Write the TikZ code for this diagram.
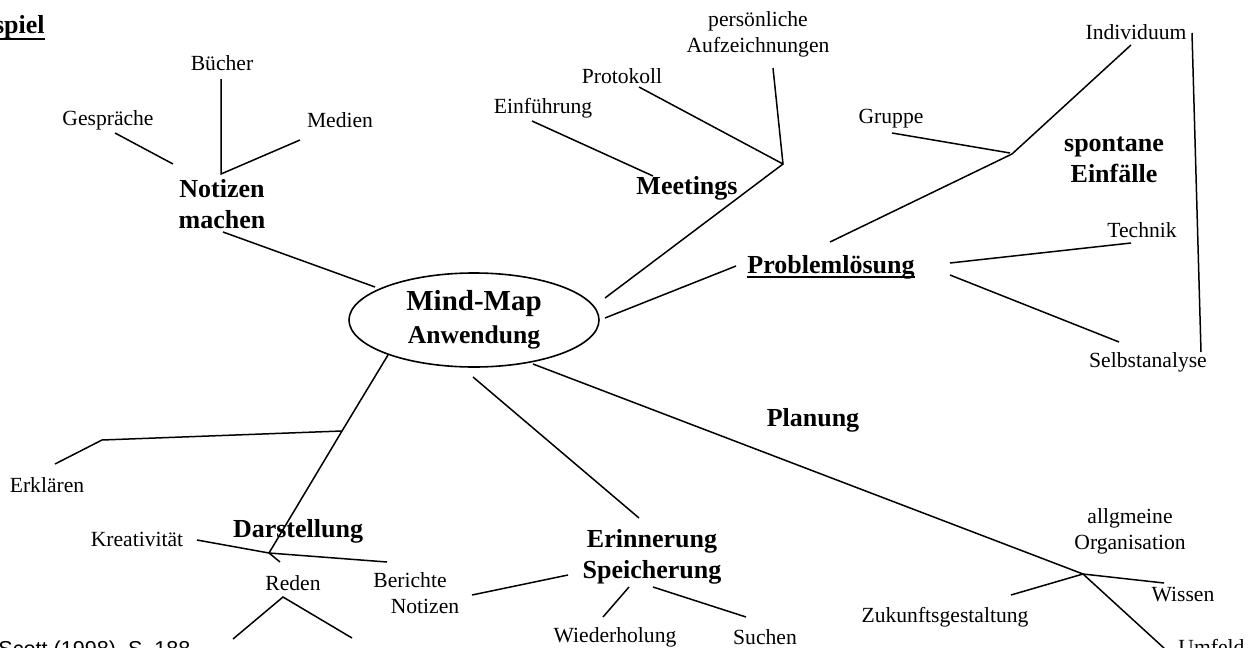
\documentclass[tikz,border=0pt]{standalone}
\usepackage{fontspec}
\setmainfont{Liberation Serif}
\newfontfamily\arialfont{Liberation Sans}
\usepackage{tikz}
\usetikzlibrary{shapes.geometric}
\definecolor{ink}{HTML}{000000}
\tikzset{
  leaf/.style={inner sep=0pt,align=center,text=ink,
    font=\fontsize{10.8}{13}\selectfont},
  branch/.style={inner sep=0pt,align=center,text=ink,
    font=\fontsize{13}{15.5}\selectfont\bfseries},
  hub/.style={draw=ink,ellipse,line width=0.8pt,minimum width=125pt,
    minimum height=47pt,inner sep=0pt,align=center,font=\bfseries},
  twig/.style={draw=ink,line width=0.75pt}
}

\begin{document}
\begin{tikzpicture}[x=0.5pt,y=-0.5pt]
  \useasboundingbox (0,0) rectangle (1248,648);
  \clip (0,0) rectangle (1248,648);

  % centre
  \node[hub] (mm) at (474,320) {{\fontsize{14.5}{16.5}\selectfont Mind-Map}\\[4.5pt]
    {\fontsize{12.8}{16.5}\selectfont Anwendung}};
  \node[branch,anchor=base east] (beispiel) at (45,33) {Beispiel};
  \draw[ink,line width=0.7pt] ([yshift=-3pt]beispiel.base west) -- ([yshift=-3pt]beispiel.base east);

  % Notizen machen
  \node[branch] (notizen) at (222,204) {Notizen\\machen};
  \node[leaf] (buecher) at (222,63) {Bücher};
  \node[leaf] (gespraeche) at (108,120) {Gespräche};
  \node[leaf] (medien) at (340,120) {Medien};
  \coordinate (nf) at (221,174);
  \coordinate (ng) at (115,133);
  \coordinate (ngg) at (173,164);
  \coordinate (nb) at (221,79);
  \coordinate (nm) at (300,140);
  \coordinate (nn) at (223,232);
  \coordinate (mn) at (375,287);
  \draw[twig] (ng) -- (ngg);
  \draw[twig] (nb) -- (nf) -- (nm);
  \draw[twig] (nn) -- (mn);

  % Meetings
  \node[branch] (meetings) at (687,188) {Meetings};
  \node[leaf] (einfuehrung) at (543,108) {Einführung};
  \node[leaf] (protokoll) at (622,76) {Protokoll};
  \node[leaf] (aufzeichnung) at (758,34) {persönliche\\Aufzeichnungen};
  \coordinate (mf) at (783,164);
  \coordinate (me) at (605,298);
  \coordinate (ma) at (773,68);
  \coordinate (mp) at (639,87);
  \coordinate (ea) at (532,121);
  \coordinate (eb) at (653,176);
  \draw[twig] (me) -- (mf) -- (ma);
  \draw[twig] (mf) -- (mp);
  \draw[twig] (ea) -- (eb);

  % Problemloesung
  \node[branch,anchor=base] (problem) at (831,273) {Problemlösung};
  \draw[ink,line width=0.8pt] ([yshift=-2pt]problem.base west) -- ([yshift=-2pt]problem.base east);
  \node[leaf] (gruppe) at (891,119) {Gruppe};
  \node[leaf] (individuum) at (1136,32) {Individuum};
  \node[branch] (spontan) at (1114,160) {spontane\\Einfälle};
  \node[leaf] (technik) at (1142,230) {Technik};
  \node[leaf] (selbst) at (1148,362) {Selbstanalyse};
  \coordinate (pf) at (1012,154);
  \coordinate (pe) at (605,318);
  \coordinate (pl) at (736,266);
  \coordinate (pu) at (830,242);
  \coordinate (pi) at (1131,45);
  \coordinate (pg) at (892,133);
  \coordinate (pgf) at (1010,153);
  \coordinate (ia) at (1192,33);
  \coordinate (ib) at (1201,352);
  \coordinate (pr) at (950,263);
  \coordinate (pt) at (1131,243);
  \coordinate (ps) at (950,275);
  \coordinate (pss) at (1119,342);
  \draw[twig] (pe) -- (pl);
  \draw[twig] (pu) -- (pf) -- (pi);
  \draw[twig] (pg) -- (pgf);
  \draw[twig] (ia) -- (ib);
  \draw[twig] (pr) -- (pt);
  \draw[twig] (ps) -- (pss);

  % Planung
  \node[branch] (planung) at (813,420) {Planung};
  \node[leaf] (organisation) at (1130,531) {allgmeine\\Organisation};
  \node[leaf] (wissen) at (1183,595) {Wissen};
  \node[leaf] (zukunft) at (945,617) {Zukunftsgestaltung};
  \node[leaf,anchor=base west] (umfeld) at (1178,654) {Umfeld};
  \coordinate (of) at (1083,574);
  \coordinate (oe) at (533,364);
  \coordinate (ow) at (1164,583);
  \coordinate (oz) at (1011,595);
  \coordinate (ou) at (1165,649);
  \draw[twig] (oe) -- (of) -- (ow);
  \draw[twig] (oz) -- (of) -- (ou);

  % Erinnerung
  \node[branch] (erinnerung) at (652,557) {Erinnerung\\Speicherung};
  \node[leaf] (wiederholung) at (615,637) {Wiederholung};
  \node[leaf] (suchen) at (765,637) {Suchen};
  \node[leaf] (berichte) at (410,580) {Berichte};
  \node[leaf] (notizenb) at (425,606) {Notizen};
  \coordinate (ee) at (473,377);
  \coordinate (ei) at (639,518);
  \coordinate (eba) at (568,575);
  \coordinate (ebb) at (472,595);
  \coordinate (ewa) at (629,587);
  \coordinate (ewb) at (603,617);
  \coordinate (esa) at (653,587);
  \coordinate (esb) at (746,617);
  \draw[twig] (ee) -- (ei);
  \draw[twig] (eba) -- (ebb);
  \draw[twig] (ewa) -- (ewb);
  \draw[twig] (esa) -- (esb);

  % Darstellung
  \node[branch] (darstellung) at (298,531) {Darstellung};
  \node[leaf] (erklaeren) at (47,485) {Erklären};
  \node[leaf] (kreativ) at (137,539) {Kreativität};
  \node[leaf] (reden) at (293,583) {Reden};
  \coordinate (df) at (342,431);
  \coordinate (de) at (388,355);
  \coordinate (dk) at (102,440);
  \coordinate (dx) at (55,464);
  \coordinate (kf) at (269,553);
  \coordinate (kk) at (197,540);
  \coordinate (kb) at (387,562);
  \coordinate (kr) at (280,562);
  \coordinate (rf) at (283,597);
  \coordinate (rl) at (233,639);
  \coordinate (rr) at (352,638);
  \draw[twig] (de) -- (df) -- (kf);
  \draw[twig] (df) -- (dk) -- (dx);
  \draw[twig] (kk) -- (kf) -- (kb);
  \draw[twig] (kf) -- (kr);
  \draw[twig] (rl) -- (rf) -- (rr);

  \node[anchor=base west,inner sep=0pt,font=\arialfont\fontsize{10.8}{13}\selectfont]
    (quelle) at (-2,656) {Scott (1998), S. 188};
\end{tikzpicture}
\end{document}
